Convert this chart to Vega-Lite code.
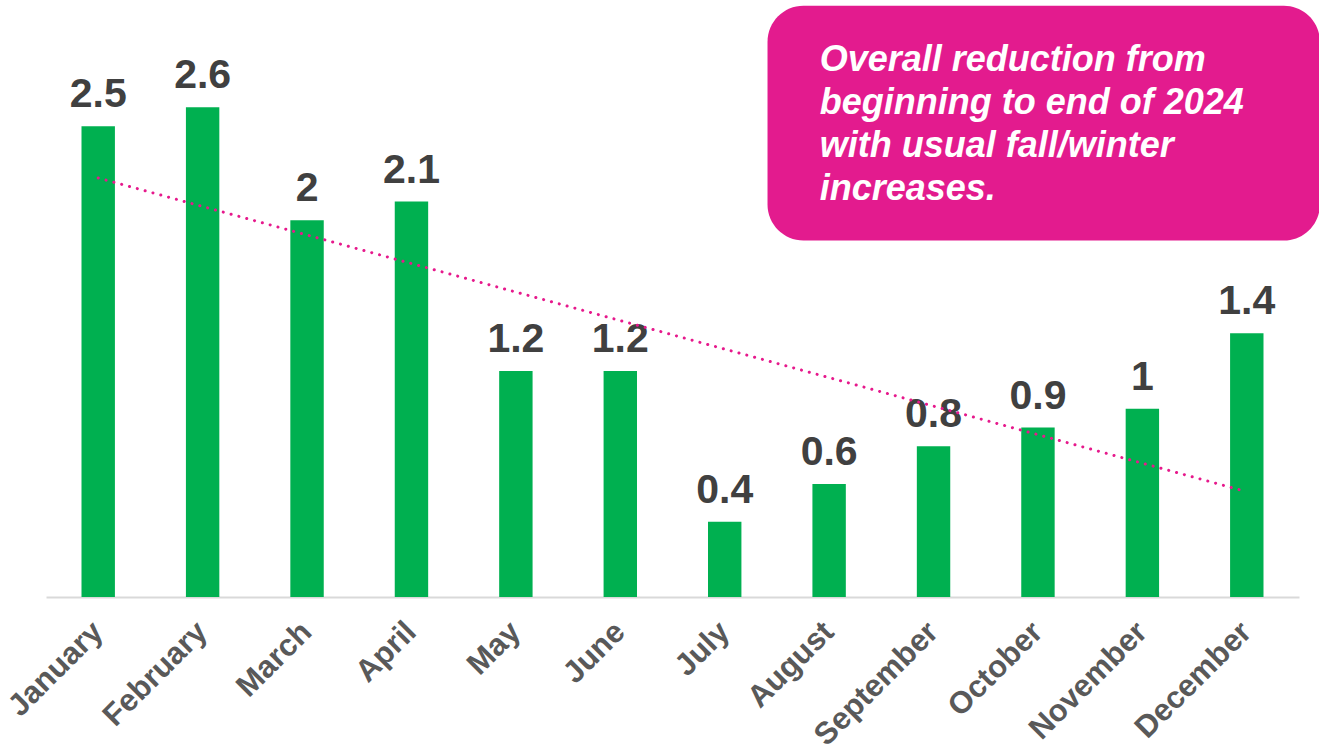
{
  "$schema": "https://vega.github.io/schema/vega-lite/v6.json",
  "autosize": "none",
  "width": 1253,
  "height": 597,
  "padding": {"left": 46, "top": 0, "right": 20, "bottom": 154},
  "background": "white",
  "config": {"view": {"stroke": null}, "font": "Liberation Sans"},
  "datasets": {
    "months": [
      {"month": "January", "value": 2.5},
      {"month": "February", "value": 2.6},
      {"month": "March", "value": 2},
      {"month": "April", "value": 2.1},
      {"month": "May", "value": 1.2},
      {"month": "June", "value": 1.2},
      {"month": "July", "value": 0.4},
      {"month": "August", "value": 0.6},
      {"month": "September", "value": 0.8},
      {"month": "October", "value": 0.9},
      {"month": "November", "value": 1},
      {"month": "December", "value": 1.4}
    ],
    "trend": [
      {"month": "January", "trend": 2.225},
      {"month": "December", "trend": 0.559}
    ],
    "box": [
      {"x0": 6.91, "x1": 12.2, "y0": 1.893, "y1": 3.14, "tx": 7.41, "ty": 2.793,
       "note": ["Overall reduction from", "beginning to end of 2024", "with usual fall/winter", "increases."]}
    ]
  },
  "layer": [
    {
      "layer": [
        {
          "data": {"name": "months"},
          "mark": {"type": "bar", "color": "#00B050"},
          "encoding": {
            "x": {
              "field": "month", "type": "nominal", "sort": null,
              "scale": {"paddingInner": 0.68, "paddingOuter": 0.34},
              "axis": {
                "title": null, "labelAngle": -45, "labelAlign": "right", "labelBaseline": "middle",
                "labelFontSize": 31, "labelFontWeight": "bold", "labelColor": "#595959",
                "labelPadding": 30, "ticks": false, "domainColor": "#D9D9D9", "domainWidth": 2,
                "labelFont": "Liberation Sans", "labelOverlap": false
              }
            },
            "y": {
              "field": "value", "type": "quantitative",
              "scale": {"domain": [0, 3.17], "nice": false},
              "axis": null
            }
          }
        },
        {
          "data": {"name": "months"},
          "mark": {"type": "text", "dy": -19, "baseline": "alphabetic", "align": "center",
                   "fontSize": 41, "fontWeight": "bold", "color": "#404040", "font": "Liberation Sans"},
          "encoding": {
            "x": {"field": "month", "type": "nominal", "sort": null},
            "y": {"field": "value", "type": "quantitative"},
            "text": {"field": "value", "type": "quantitative"}
          }
        },
        {
          "data": {"name": "trend"},
          "mark": {"type": "line", "color": "#E6198C", "strokeWidth": 3, "strokeDash": [0.1, 8], "strokeCap": "round"},
          "encoding": {
            "x": {"field": "month", "type": "nominal", "sort": null},
            "y": {"field": "trend", "type": "quantitative"}
          }
        }
      ]
    },
    {
      "data": {"name": "box"},
      "layer": [
        {
          "mark": {"type": "rect", "color": "#E31B8E", "cornerRadius": 36, "clip": false},
          "encoding": {
            "x": {"field": "x0", "type": "quantitative", "scale": {"domain": [0, 12], "nice": false, "zero": false}, "axis": null},
            "x2": {"field": "x1"},
            "y": {"field": "y0", "type": "quantitative"},
            "y2": {"field": "y1"}
          }
        },
        {
          "mark": {"type": "text", "align": "left", "baseline": "alphabetic", "fontSize": 36,
                   "fontWeight": "bold", "fontStyle": "italic", "color": "white", "lineHeight": 43,
                   "font": "Liberation Sans"},
          "encoding": {
            "x": {"field": "tx", "type": "quantitative", "scale": {"domain": [0, 12], "nice": false, "zero": false}, "axis": null},
            "y": {"field": "ty", "type": "quantitative"},
            "text": {"field": "note"}
          }
        }
      ]
    }
  ],
  "resolve": {"scale": {"x": "independent"}}
}
